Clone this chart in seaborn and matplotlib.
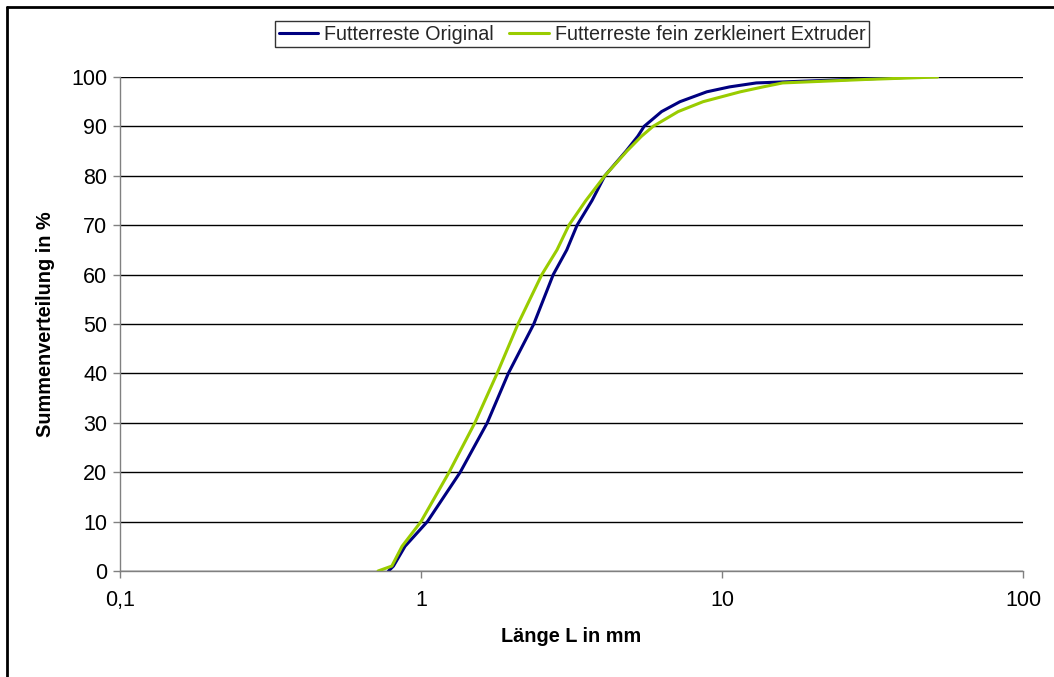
import matplotlib
matplotlib.use("Agg")
import matplotlib.pyplot as plt
from matplotlib.lines import Line2D
import numpy as np
import pandas as pd
import seaborn as sns

# Summenverteilung (%) ueber Laenge L (mm)
summe = [0, 1, 5, 10, 20, 30, 40, 50, 60, 65, 70, 75, 80, 85, 88, 90, 93, 95, 97,
         98, 98.8, 99.5, 100]
laenge_original = [0.78, 0.81, 0.885, 1.05, 1.35, 1.66, 1.95, 2.37, 2.75, 3.05, 3.3, 3.7,
                   4.08, 4.8, 5.25, 5.51, 6.3, 7.25, 8.9, 10.6, 13.0, 26.6, 44.5]
laenge_extruder = [0.72, 0.80, 0.865, 1.0, 1.24, 1.51, 1.79, 2.1, 2.52, 2.83, 3.1, 3.53,
                   4.08, 4.83, 5.4, 5.9, 7.15, 8.65, 11.5, 13.7, 15.9, 30.0, 52.0]
serien = ["Futterreste Original", "Futterreste fein zerkleinert Extruder"]
farben = ["#000080", "#99CC00"]

df = pd.concat([
    pd.DataFrame({"L": laenge_original, "S": summe, "Serie": serien[0]}),
    pd.DataFrame({"L": laenge_extruder, "S": summe, "Serie": serien[1]}),
])

sns.set_style("white")
plt.rcParams["font.family"] = ["Liberation Sans", "DejaVu Sans"]

fig = plt.figure(figsize=(10.54, 6.77), dpi=100)
ax = fig.add_axes([120 / 1054, 1 - 571 / 677, 903 / 1054, 494 / 677])

sns.lineplot(data=df, x="L", y="S", hue="Serie", palette=farben, sort=False,
             estimator=None, linewidth=2.2, legend=False, ax=ax)

ax.set_xscale("log")
ax.set_xlim(0.1, 100)
ax.set_ylim(0, 100)
ax.set_xticks([0.1, 1, 10, 100])
ax.set_xticklabels(["0,1", "1", "10", "100"])
ax.xaxis.set_minor_locator(matplotlib.ticker.NullLocator())
ax.set_yticks(range(0, 101, 10))
ax.yaxis.grid(True, color="black", linewidth=1)
ax.set_axisbelow(True)
ax.tick_params(axis="both", direction="out", length=5, width=1, color="#808080",
               labelsize=15.5, labelcolor="black", bottom=True, left=True)
ax.tick_params(axis="x", pad=9)
ax.tick_params(axis="y", pad=4)
for s in ["top", "right"]:
    ax.spines[s].set_visible(False)
for s in ["left", "bottom"]:
    ax.spines[s].set_color("#808080")
    ax.spines[s].set_linewidth(1)

ax.set_xlabel("Länge L in mm", fontsize=14.3, fontweight="bold", labelpad=11,
              color="black")
ax.set_ylabel("Summenverteilung in %", fontsize=14.3, fontweight="bold", labelpad=12,
              color="black")

handles = [Line2D([0], [0], color=c, linewidth=2.2) for c in farben]
leg = fig.legend(handles, serien, loc="center", bbox_to_anchor=(572 / 1054, 1 - 34 / 677),
                 ncol=2, fontsize=14.2, frameon=True, fancybox=False, handlelength=2.0,
                 handletextpad=0.3, columnspacing=0.8, borderpad=0.2,
                 borderaxespad=0)
leg.get_frame().set_edgecolor("black")
leg.get_frame().set_linewidth(1)

# aeusserer Diagrammrahmen (links und oben sichtbar)
fig.add_artist(Line2D([7 / 1054, 7 / 1054], [0, 1 - 7 / 677], color="black", linewidth=2,
                      transform=fig.transFigure))
fig.add_artist(Line2D([7 / 1054, 1], [1 - 7 / 677, 1 - 7 / 677], color="black", linewidth=2,
                      transform=fig.transFigure))

fig.savefig("out.png", dpi=100)
